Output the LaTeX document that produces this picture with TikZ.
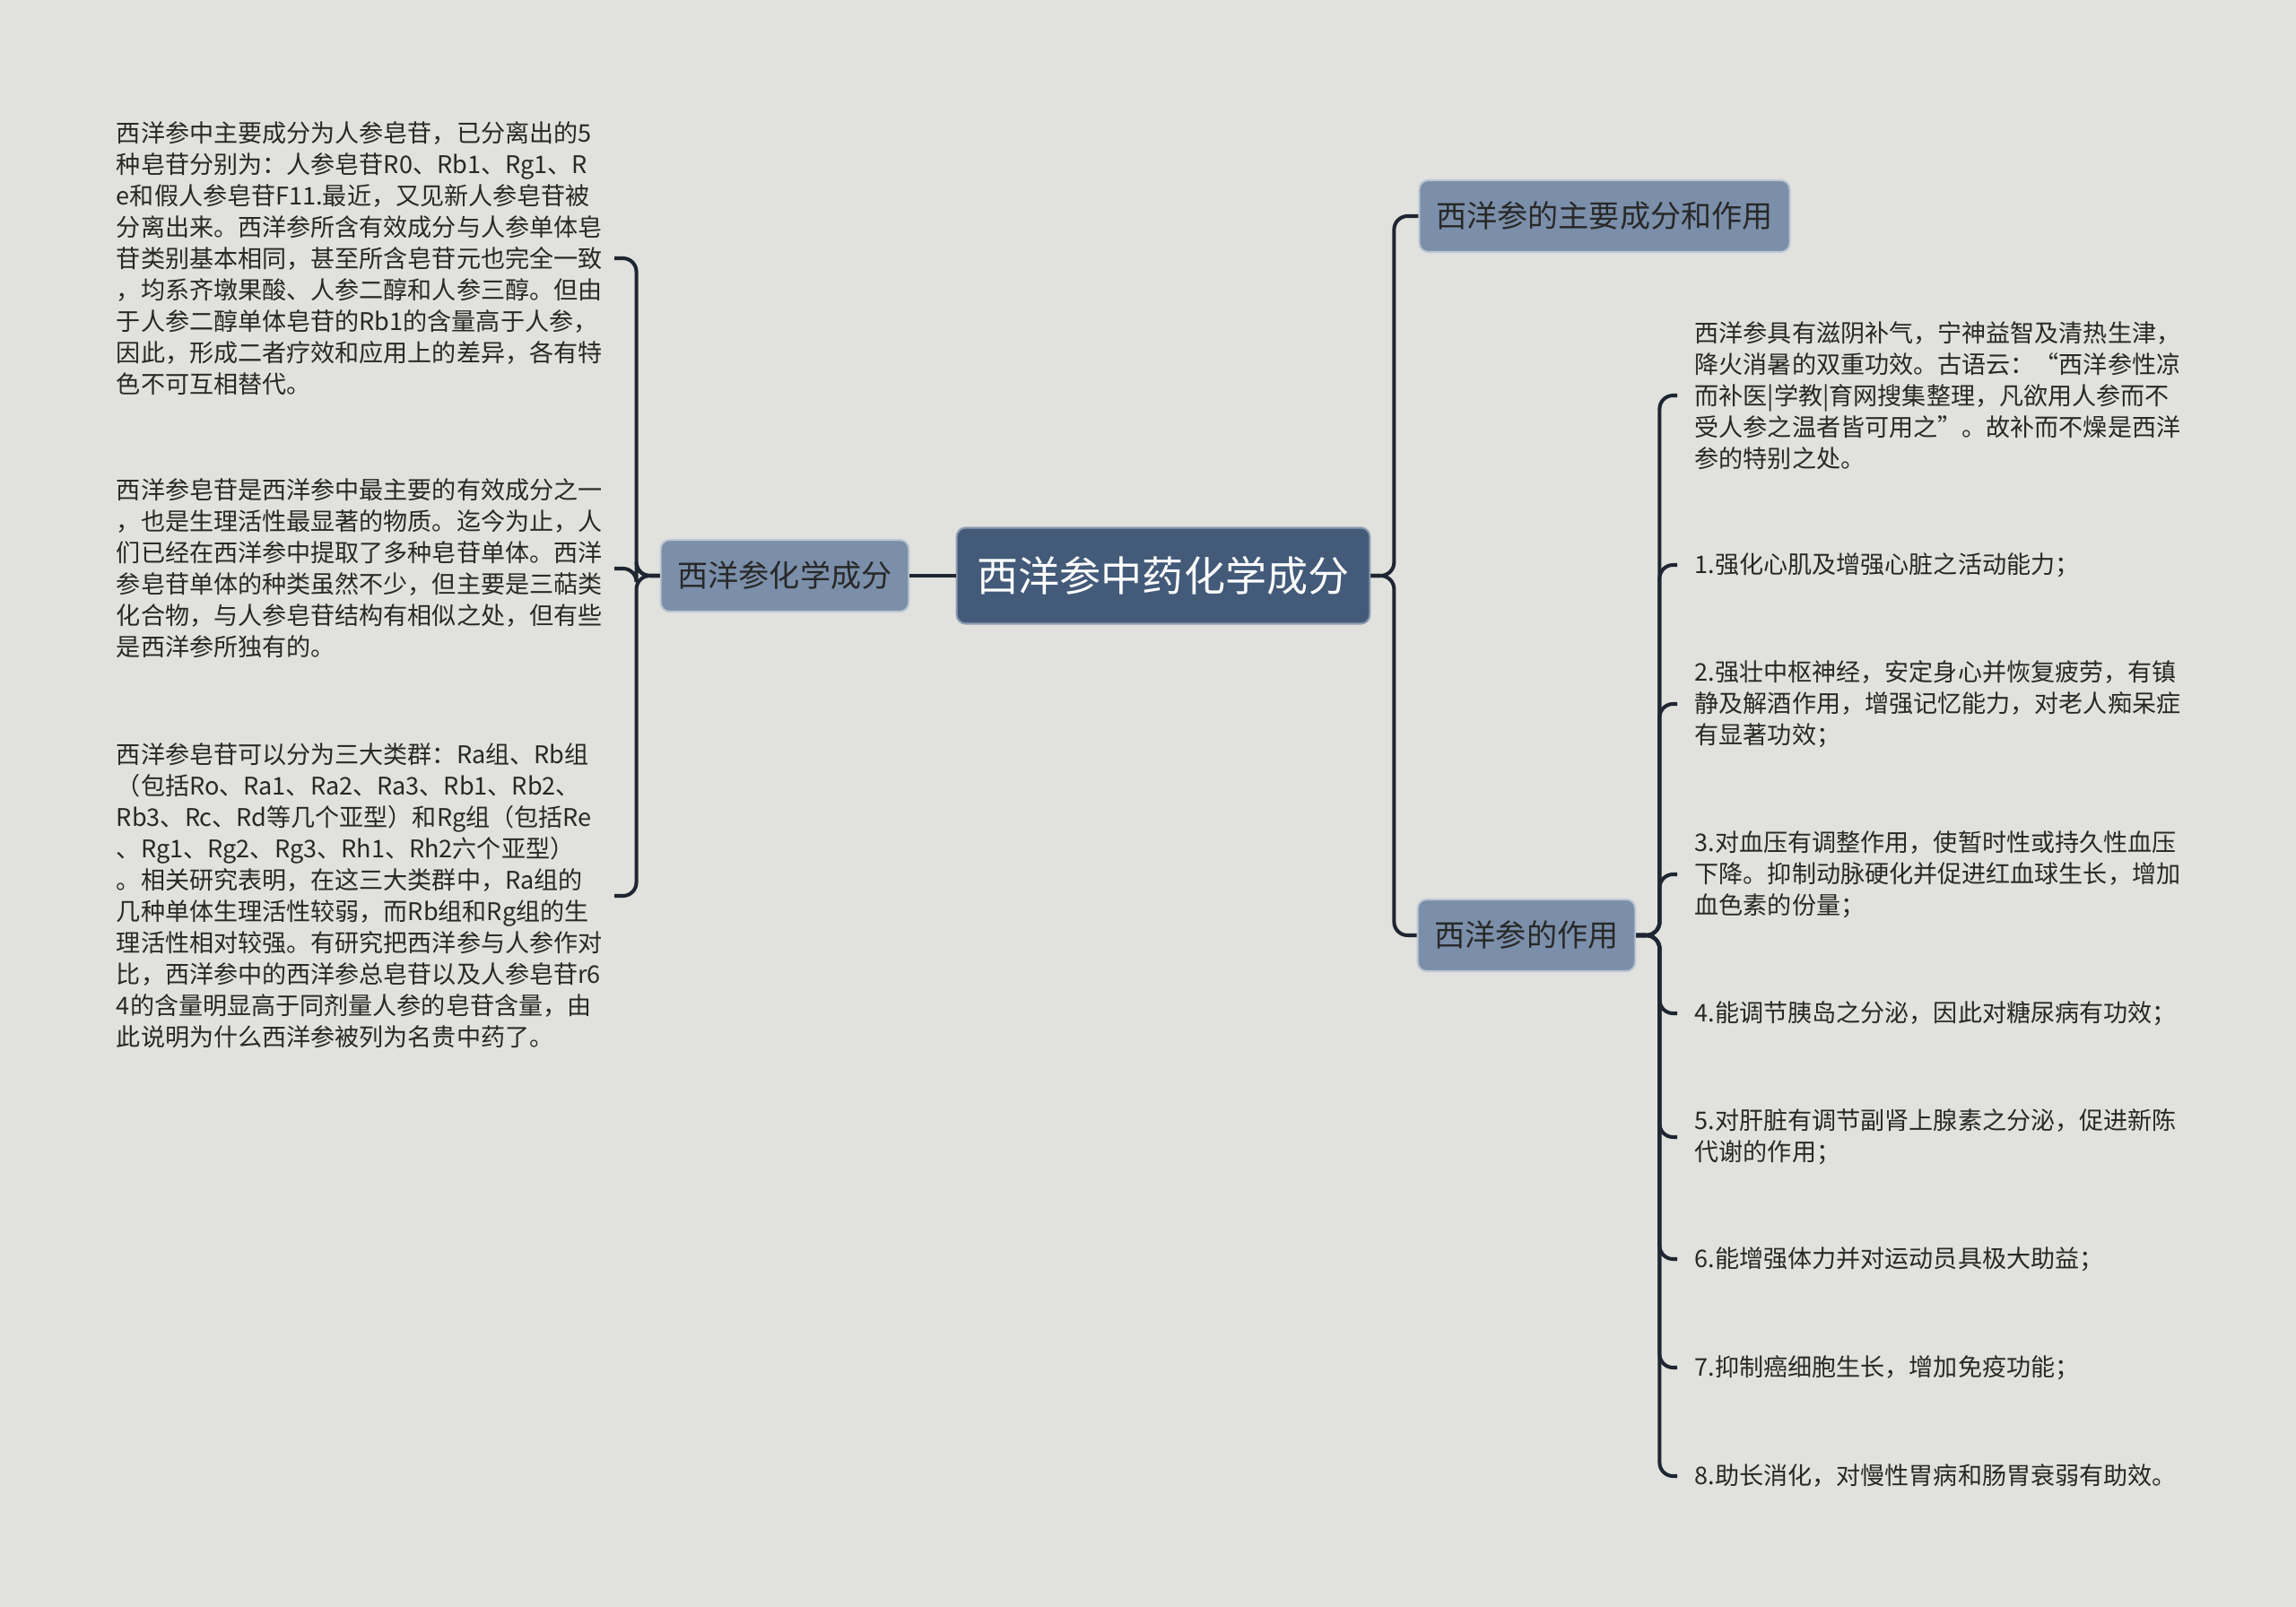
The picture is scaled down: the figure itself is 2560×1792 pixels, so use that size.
\documentclass[tikz,border=0pt]{standalone}
\usepackage{fontspec}
\setmainfont{Noto Sans CJK SC}
\usepackage{xcolor}
\usepackage{tikz}
\definecolor{paper}{RGB}{225,226,221}
\definecolor{rootblue}{RGB}{67,90,121}
\definecolor{subblue}{RGB}{123,143,170}
\definecolor{linknavy}{RGB}{30,38,50}
\definecolor{inkgray}{RGB}{40,40,40}

\begin{document}
\begin{tikzpicture}[x=0.01cm,y=-0.01cm,
  rootbox/.style={fill=rootblue,draw=rootblue!60!white,line width=0.6pt,rounded corners=0.1cm,text=white,
    inner xsep=0.23cm,minimum height=1.07cm,font=\fontsize{13.1}{15}\selectfont},
  subbox/.style={fill=subblue,draw=subblue!50!white,line width=0.6pt,rounded corners=0.1cm,text=inkgray,
    inner xsep=0.19cm,minimum height=0.8cm,font=\fontsize{9.7}{12}\selectfont},
  leaftext/.style={text=inkgray,align=left,inner xsep=0.1cm,inner ysep=0pt,font=\fontsize{7.7}{9.96}\selectfont},
  link/.style={draw=linknavy,line width=1.15pt,rounded corners=0.15cm}]
\fill[paper] (0,0) rectangle (2560,1792);
\useasboundingbox (0,0) rectangle (2560,1792);

\node[rootbox] (root) at (1297,642) {西洋参中药化学成分};
\node[subbox] (chem) at (875,642) {西洋参化学成分};
\node[subbox] (main) at (1789,241) {西洋参的主要成分和作用};
\node[subbox] (act) at (1702,1043) {西洋参的作用};

\node[leaftext,text width=5.44cm,anchor=east] (c1) at (685,288) {西洋参中主要成分为人参皂苷，已分离出的5\\种皂苷分别为：人参皂苷R0、Rb1、Rg1、R\\e和假人参皂苷F11.最近，又见新人参皂苷被\\分离出来。西洋参所含有效成分与人参单体皂\\苷类别基本相同，甚至所含皂苷元也完全一致\\，均系齐墩果酸、人参二醇和人参三醇。但由\\于人参二醇单体皂苷的Rb1的含量高于人参，\\因此，形成二者疗效和应用上的差异，各有特\\色不可互相替代。};
\node[leaftext,text width=5.44cm,anchor=east] (c2) at (685,634) {西洋参皂苷是西洋参中最主要的有效成分之一\\，也是生理活性最显著的物质。迄今为止，人\\们已经在西洋参中提取了多种皂苷单体。西洋\\参皂苷单体的种类虽然不少，但主要是三萜类\\化合物，与人参皂苷结构有相似之处，但有些\\是西洋参所独有的。};
\node[leaftext,text width=5.44cm,anchor=east] (c3) at (685,999) {西洋参皂苷可以分为三大类群：Ra组、Rb组\\（包括Ro、Ra1、Ra2、Ra3、Rb1、Rb2、\\Rb3、Rc、Rd等几个亚型）和Rg组（包括Re\\、Rg1、Rg2、Rg3、Rh1、Rh2六个亚型）\\。相关研究表明，在这三大类群中，Ra组的\\几种单体生理活性较弱，而Rb组和Rg组的生\\理活性相对较强。有研究把西洋参与人参作对\\比，西洋参中的西洋参总皂苷以及人参皂苷r6\\4的含量明显高于同剂量人参的皂苷含量，由\\此说明为什么西洋参被列为名贵中药了。};

\node[leaftext,anchor=west,inner xsep=0.19cm] (a0) at (1870,441) {西洋参具有滋阴补气，宁神益智及清热生津，\\降火消暑的双重功效。古语云：“西洋参性凉\\而补医|学教|育网搜集整理，凡欲用人参而不\\受人参之温者皆可用之”。故补而不燥是西洋\\参的特别之处。};
\node[leaftext,anchor=west,inner xsep=0.19cm] (a1) at (1870,630) {1.强化心肌及增强心脏之活动能力；};
\node[leaftext,anchor=west,inner xsep=0.19cm] (a2) at (1870,785) {2.强壮中枢神经，安定身心并恢复疲劳，有镇\\静及解酒作用，增强记忆能力，对老人痴呆症\\有显著功效；};
\node[leaftext,anchor=west,inner xsep=0.19cm] (a3) at (1870,975) {3.对血压有调整作用，使暂时性或持久性血压\\下降。抑制动脉硬化并促进红血球生长，增加\\血色素的份量；};
\node[leaftext,anchor=west,inner xsep=0.19cm] (a4) at (1870,1130) {4.能调节胰岛之分泌，因此对糖尿病有功效；};
\node[leaftext,anchor=west,inner xsep=0.19cm] (a5) at (1870,1268) {5.对肝脏有调节副肾上腺素之分泌，促进新陈\\代谢的作用；};
\node[leaftext,anchor=west,inner xsep=0.19cm] (a6) at (1870,1404) {6.能增强体力并对运动员具极大助益；};
\node[leaftext,anchor=west,inner xsep=0.19cm] (a7) at (1870,1525) {7.抑制癌细胞生长，增加免疫功能；};
\node[leaftext,anchor=west,inner xsep=0.19cm] (a8) at (1870,1646) {8.助长消化，对慢性胃病和肠胃衰弱有助效。};

\draw[link] (root.west) -- (chem.east);
\draw[link] (root.east) -- ++(26,0) |- (main.west);
\draw[link] (root.east) -- ++(26,0) |- (act.west);

\draw[link] (chem.west) -- ++(-26,0) |- (c1.east);
\draw[link] (chem.west) -- ++(-26,0) |- (c2.east);
\draw[link] (chem.west) -- ++(-26,0) |- (c3.east);

\draw[link] (act.east) -- ++(26,0) |- (a0.west);
\draw[link] (act.east) -- ++(26,0) |- (a1.west);
\draw[link] (act.east) -- ++(26,0) |- (a2.west);
\draw[link] (act.east) -- ++(26,0) |- (a3.west);
\draw[link] (act.east) -- ++(26,0) |- (a4.west);
\draw[link] (act.east) -- ++(26,0) |- (a5.west);
\draw[link] (act.east) -- ++(26,0) |- (a6.west);
\draw[link] (act.east) -- ++(26,0) |- (a7.west);
\draw[link] (act.east) -- ++(26,0) |- (a8.west);
\end{tikzpicture}
\end{document}
